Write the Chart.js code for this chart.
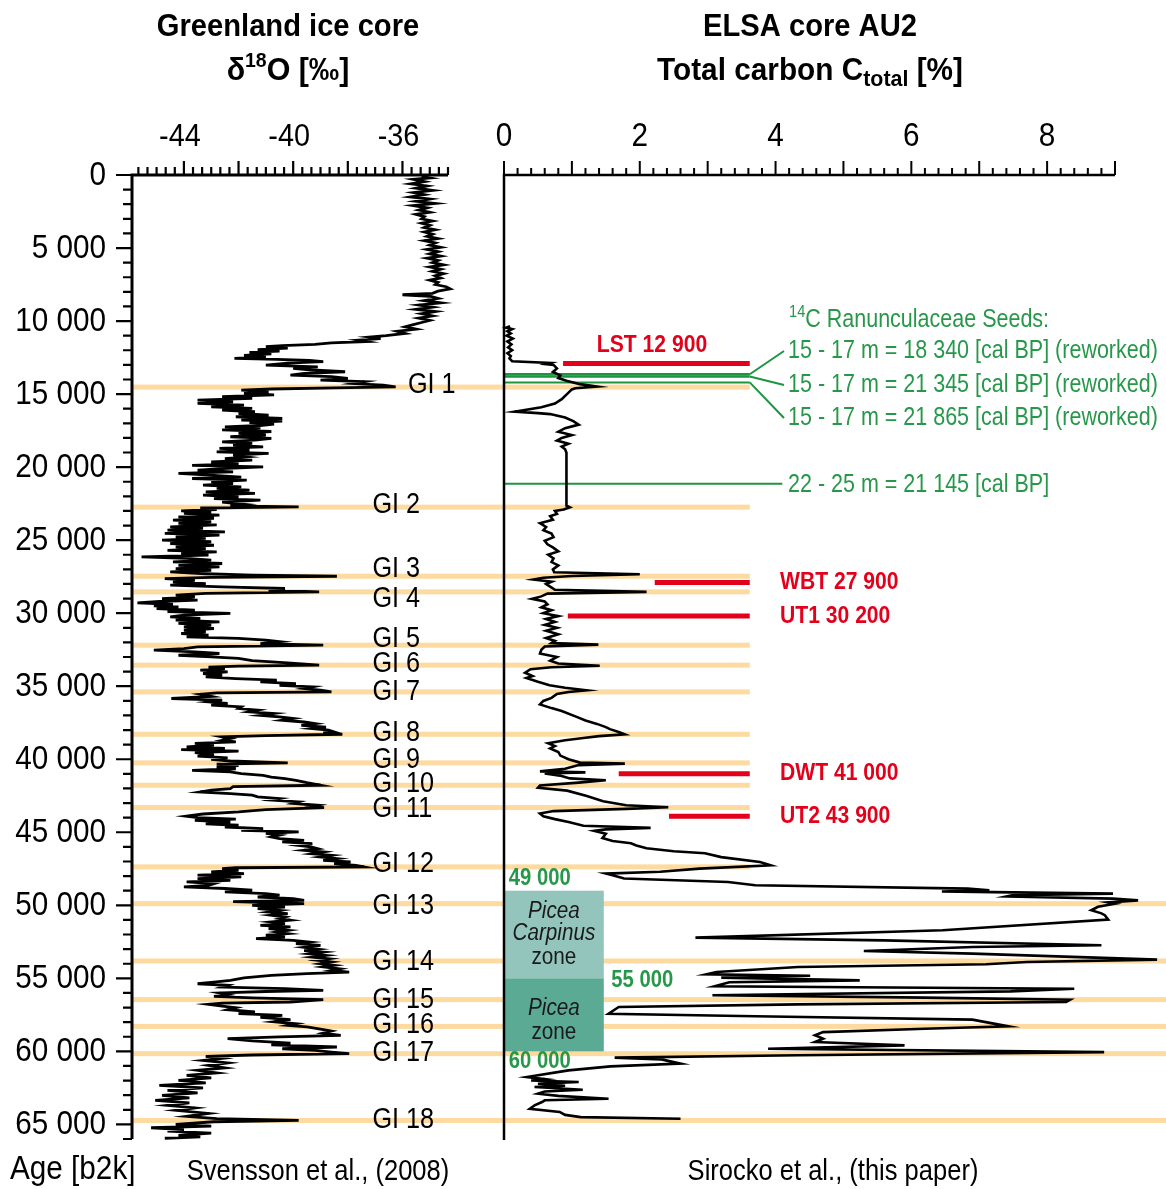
<!DOCTYPE html>
<html>
<head>
<meta charset="utf-8">
<title>Greenland ice core δ18O and ELSA core AU2 total carbon</title>
<script src="https://cdn.jsdelivr.net/npm/chart.js@4.4.1/dist/chart.umd.min.js"></script>
<style>
  html, body { margin: 0; padding: 0; background: #fff; }
  #wrap { position: relative; width: 1166px; height: 1189px; }
  #wrap canvas { position: absolute; left: 0; top: 0; }
</style>
</head>
<body>
<div id="wrap">
  <canvas id="carbon" width="1166" height="1189"></canvas>
  <canvas id="ice" width="1166" height="1189"></canvas>
</div>
<script>
// ---------------------------------------------------------------
// Data
// ---------------------------------------------------------------

// NGRIP δ18O record (Svensson et al., 2008): [age b2k, δ18O ‰]
const iceCore = [
  [100,-35.3],[200,-35.0],[300,-35.6],[450,-35.2],[600,-35.7],[750,-35.1],[900,-35.5],[1050,-34.9],
  [1200,-35.6],[1350,-35.2],[1500,-35.7],[1650,-35.0],[1800,-35.5],[1950,-34.8],[2100,-35.6],[2250,-35.1],
  [2400,-35.4],[2550,-35.0],[2700,-35.5],[2850,-35.2],[3000,-35.3],[3150,-34.9],[3300,-35.3],[3450,-35.0],
  [3600,-35.2],[3750,-34.8],[3900,-35.2],[4050,-34.9],[4200,-35.1],[4350,-34.7],[4500,-35.2],[4650,-34.8],
  [4800,-35.0],[4950,-34.6],[5100,-35.1],[5250,-34.7],[5400,-35.0],[5550,-34.6],[5700,-35.1],[5850,-34.7],
  [6000,-34.9],[6150,-34.5],[6300,-35.0],[6450,-34.6],[6600,-34.9],[6750,-34.5],[6900,-34.8],[7050,-34.6],
  [7200,-35.0],[7350,-34.7],[7500,-34.8],[7650,-34.4],[7800,-34.25],[7950,-34.7],[8100,-34.9],[8200,-36.0],
  [8300,-35.0],[8450,-34.7],[8600,-35.2],[8750,-34.6],[8900,-35.4],[9050,-34.9],[9200,-35.5],[9350,-34.8],
  [9500,-35.3],[9650,-34.9],[9800,-35.4],[9950,-35.0],[10100,-35.3],[10250,-35.6],
  [10400,-35.9],[10550,-35.5],[10700,-36.2],[10850,-35.9],[11000,-36.6],[11100,-37.2],[11200,-36.8],[11300,-37.6],
  [11400,-37.3],[11500,-38.6],[11600,-39.2],[11680,-40.4],[11760,-41.0],[11850,-40.2],[11950,-41.3],[12050,-40.5],
  [12150,-41.6],[12250,-40.8],[12350,-41.8],[12450,-41.0],[12560,-42.15],[12620,-40.6],[12700,-39.4],[12780,-38.9],
  [12880,-40.2],[13010,-41.0],[13130,-39.1],[13240,-40.0],[13350,-39.3],[13470,-38.1],[13580,-39.6],[13700,-40.1],
  [13810,-38.6],[13930,-38.0],[14050,-39.0],[14150,-37.4],[14280,-37.8],[14380,-36.7],[14500,-36.25],[14580,-38.5],
  [14650,-40.8],[14730,-41.9],[14850,-40.9],[14950,-41.8],[15060,-40.7],[15180,-42.6],[15300,-41.5],[15410,-43.5],
  [15530,-42.2],[15640,-43.5],[15750,-41.8],[15870,-43.0],[15980,-41.5],[16100,-42.6],[16210,-41.4],[16330,-42.0],
  [16440,-40.9],[16550,-42.1],[16670,-40.4],
  [16780,-41.9],[16850,-40.4],[16950,-41.6],[17050,-40.7],[17150,-41.2],[17240,-42.5],[17330,-41.2],[17450,-42.6],
  [17560,-40.8],[17690,-42.0],[17800,-41.0],[17920,-42.3],[18030,-40.8],[18150,-41.4],[18270,-42.6],[18380,-41.5],
  [18500,-42.2],[18610,-41.1],[18720,-42.7],[18840,-41.6],[18950,-42.8],[19060,-40.9],[19180,-42.2],[19300,-41.7],
  [19420,-42.5],[19520,-41.5],[19650,-43.0],[19780,-42.0],[19880,-43.7],[19980,-41.1],[20100,-42.6],[20200,-43.5],
  [20320,-42.2],[20430,-44.2],[20560,-42.9],[20680,-41.9],[20780,-43.7],[20890,-41.7],[21000,-43.0],[21120,-42.2],
  [21230,-43.3],[21350,-41.9],[21460,-42.8],[21580,-41.6],[21700,-43.2],[21800,-41.4],[21920,-43.3],[22030,-42.0],
  [22150,-42.9],[22260,-41.2],[22400,-42.6],[22550,-41.8],[22650,-42.3],[22720,-39.8],[22800,-43.4],[22900,-42.8],
  [23000,-44.1],[23100,-43.0],[23170,-44.0],[23280,-42.7],[23400,-44.2],[23500,-42.9],[23630,-44.4],[23740,-43.0],
  [23850,-44.2],[23960,-42.8],[24090,-44.5],[24200,-43.3],[24320,-44.6],[24430,-42.5],[24540,-44.7],[24650,-42.7],
  [24770,-44.3],[24880,-43.2],[25000,-44.8],[25110,-43.0],[25230,-44.5],[25350,-42.9],[25460,-44.3],[25570,-43.2],
  [25700,-44.6],[25800,-42.8],[25910,-44.1],[26030,-43.1],[26140,-45.55],[26250,-43.9],[26370,-43.0],[26490,-44.4],
  [26600,-42.6],[26720,-44.2],[26830,-42.7],[26950,-44.3],[27060,-43.0],[27170,-44.5],[27300,-43.2],[27400,-41.5],
  [27470,-38.4],[27550,-43.0],[27630,-44.7],[27750,-43.6],[27870,-44.4],[27970,-43.2],[28080,-44.5],[28200,-42.6],
  [28310,-40.3],[28420,-40.9],[28540,-39.05],[28650,-43.2],[28770,-44.3],[28880,-43.6],[29000,-44.8],[29100,-43.5],
  [29200,-44.9],[29290,-45.7],[29400,-44.4],[29500,-45.1],[29570,-44.2],[29680,-45.0],[29800,-43.6],[29900,-44.6],
  [30020,-42.3],[30130,-44.0],[30250,-44.5],[30360,-43.4],[30480,-44.3],[30600,-42.7],[30700,-44.2],[30820,-43.0],
  [30940,-44.0],[31050,-42.9],[31170,-44.0],[31280,-43.2],[31390,-44.1],[31500,-43.1],[31620,-43.9],[31730,-42.0],
  [31850,-41.0],[31950,-40.5],[32080,-41.2],[32190,-38.9],[32300,-43.5],[32420,-44.0],[32530,-45.1],[32650,-43.6],
  [32760,-42.7],[32880,-44.2],[32990,-43.0],[33100,-42.0],[33250,-41.5],[33400,-40.2],[33560,-39.05],
  [33620,-42.0],[33700,-43.1],[33790,-42.5],[33900,-43.4],[34020,-42.4],[34130,-43.3],[34250,-42.6],[34360,-43.2],
  [34480,-42.1],[34590,-40.6],[34700,-41.2],[34820,-39.9],[34940,-40.5],[35050,-39.3],[35160,-39.6],[35270,-39.0],
  [35390,-38.6],[35450,-42.8],[35550,-43.4],[35700,-43.0],[35840,-44.46],[35950,-42.6],[36070,-43.1],[36180,-42.4],
  [36300,-43.0],[36410,-41.9],[36530,-42.0],[36640,-41.3],[36750,-41.6],[36870,-40.7],[37000,-41.2],[37100,-40.5],
  [37210,-40.0],[37330,-40.4],[37450,-39.6],[37560,-39.2],[37680,-39.7],[37800,-38.8],[37900,-39.3],[38010,-38.7],
  [38130,-38.5],[38200,-38.9],[38290,-38.2],[38380,-41.0],[38470,-42.6],[38580,-42.3],[38700,-42.6],[38810,-42.1],
  [38920,-43.6],[39040,-42.9],[39150,-43.9],[39250,-42.5],[39340,-44.1],[39450,-42.0],[39550,-43.6],[39670,-42.9],
  [39780,-43.5],[39900,-42.4],[40000,-43.0],[40120,-42.3],[40250,-40.2],[40330,-42.8],[40430,-42.0],[40520,-42.8],
  [40650,-42.1],[40760,-43.7],[40870,-42.3],[40980,-41.9],[41100,-41.1],[41220,-40.8],[41330,-40.3],[41440,-39.9],
  [41600,-39.5],[41780,-38.99],[41880,-42.2],[42010,-42.3],[42120,-43.0],[42240,-43.4],[42350,-42.3],[42460,-41.5],
  [42580,-41.3],[42690,-40.5],[42800,-40.8],[42920,-39.8],[43030,-40.0],[43150,-39.1],[43230,-39.3],[43310,-38.87],
  [43450,-41.0],[43610,-42.0],[43750,-43.3],[43900,-43.92],[44000,-43.5],[44100,-42.1],[44180,-43.6],[44300,-42.3],
  [44420,-43.2],[44520,-42.0],[44640,-42.5],[44750,-41.1],[44860,-41.9],[44970,-39.8],[45080,-41.0],[45200,-40.5],
  [45320,-40.8],[45440,-40.5],[45560,-39.6],[45660,-40.4],[45780,-39.3],[45900,-39.8],[46000,-39.35],[46120,-39.1],
  [46230,-39.6],[46350,-38.9],[46470,-39.3],[46580,-38.6],[46690,-39.0],[46800,-38.4],[46920,-38.9],[47030,-37.9],
  [47150,-38.5],[47260,-37.7],[47370,-37.4],[47430,-42.1],[47490,-42.6],[47600,-42.0],[47720,-43.0],[47830,-41.8],
  [47940,-43.5],[48060,-41.9],[48170,-43.5],[48290,-42.3],[48400,-43.9],[48520,-42.9],[48630,-43.1],[48740,-44.0],
  [48850,-42.5],[48970,-41.5],[49080,-42.5],[49200,-41.0],[49310,-40.5],[49430,-41.3],[49540,-40.0],
  [49660,-39.6],[49750,-42.2],[49890,-39.6],[50000,-41.5],[50115,-40.3],[50230,-41.3],[50350,-40.5],[50460,-40.9],
  [50570,-40.2],[50680,-40.8],[50800,-40.3],[50910,-40.5],[51020,-40.1],[51140,-40.8],[51250,-40.3],[51370,-41.2],
  [51480,-40.1],[51600,-40.9],[51720,-40.2],[51830,-40.6],[51940,-40.2],[52050,-41.0],[52170,-40.3],[52280,-41.36],
  [52400,-40.0],[52520,-39.4],[52630,-39.9],[52750,-39.0],[52880,-39.6],[53000,-39.1],[53100,-39.6],[53200,-38.9],
  [53320,-39.4],[53430,-38.8],[53550,-39.3],[53660,-38.7],[53770,-39.1],[53880,-38.6],[54000,-39.0],[54110,-38.5],
  [54220,-38.9],[54350,-38.3],[54460,-38.6],[54570,-37.95],[54680,-39.5],[54800,-40.8],[54970,-41.8],[55140,-42.3],
  [55260,-42.9],[55370,-43.5],[55480,-42.4],[55600,-42.6],[55700,-40.3],[55820,-38.9],[55900,-41.0],[56000,-42.7],
  [56120,-42.4],[56230,-42.9],[56340,-41.5],[56460,-38.9],[56540,-39.5],[56620,-40.1],[56700,-42.6],[56780,-43.1],
  [56900,-42.6],[57010,-42.1],[57150,-42.4],[57300,-41.4],[57420,-42.0],[57530,-40.4],[57680,-41.2],[57830,-40.1],
  [57970,-40.7],[58110,-39.9],[58220,-40.2],[58330,-39.5],[58470,-39.0],[58610,-38.6],[58750,-38.9],[58900,-38.26],
  [59010,-40.5],[59130,-42.4],[59280,-41.5],[59430,-40.1],[59560,-40.8],[59700,-38.4],[59820,-40.4],[59930,-39.2],
  [60050,-38.6],[60160,-37.95],[60250,-41.5],[60340,-43.2],[60480,-42.6],[60620,-43.3],[60790,-42.4],[60960,-43.1],
  [61130,-42.5],[61300,-43.5],[61470,-42.8],[61640,-43.9],[61810,-43.0],[61990,-44.2],[62160,-43.2],[62330,-44.9],
  [62500,-43.3],[62670,-44.6],[62840,-43.5],[63010,-44.8],[63180,-43.8],[63360,-45.05],[63530,-43.8],[63700,-44.6],
  [63870,-43.6],[64040,-44.3],[64250,-43.1],[64450,-43.9],[64600,-42.8],[64730,-39.8],[64820,-42.9],[65000,-44.3],
  [65120,-43.0],[65230,-45.2],[65350,-44.0],[65460,-44.6],[65600,-43.0],[65750,-44.2],[65850,-43.4],[65950,-44.7]
];

// ELSA core AU2 total carbon: [age b2k, Ctotal %]
const carbonCore = [
  [10350,0.09],[10450,0.03],[10550,0.12],[10700,0.05],[10850,0.10],[11000,0.04],[11200,0.13],[11400,0.05],
  [11600,0.11],[11800,0.06],[12000,0.12],[12200,0.05],[12400,0.10],[12550,0.08],[12750,0.12],[12870,0.68],
  [12950,0.62],[13000,0.73],[13240,0.78],[13480,0.72],[13720,0.83],[13900,0.80],[14080,0.92],[14320,1.12],
  [14490,1.37],[14600,1.05],[14680,1.00],[15040,0.92],[15350,0.85],[15650,0.75],[15900,0.55],[16200,0.16],
  [16300,0.50],[16370,0.68],[16600,0.90],[16850,1.02],[17090,1.10],[17330,0.90],[17575,0.80],[17800,1.00],
  [18000,0.85],[18180,0.78],[18400,0.95],[18600,0.85],[18780,0.90],[19020,0.92],[19380,0.92],[22640,0.92],
  [22750,0.97],[22900,0.88],[23000,0.75],[23200,0.78],[23360,0.68],[23600,0.72],[23840,0.53],[24100,0.62],
  [24320,0.58],[24550,0.70],[24800,0.73],[25050,0.60],[25285,0.64],[25500,0.72],[25770,0.80],[26000,0.65],
  [26250,0.73],[26500,0.70],[26730,0.80],[27000,0.72],[27200,0.74],[27330,2.00],[27450,1.00],[27570,0.58],
  [27700,0.43],[27850,0.70],[28000,0.62],[28180,0.68],[28400,0.75],[28540,2.10],[28660,0.64],[28850,0.55],
  [29020,0.41],[29200,0.60],[29390,0.64],[29600,0.55],[29800,0.70],[30000,0.58],[30200,0.80],[30400,0.62],
  [30600,0.75],[30800,0.60],[31000,0.78],[31200,0.62],[31450,0.80],[31700,0.62],[31900,0.75],[32050,0.70],
  [32150,1.39],[32280,0.60],[32500,0.55],[32760,0.53],[33000,0.78],[33250,0.68],[33450,0.80],[33600,1.41],
  [33700,0.70],[33840,0.39],[34080,0.31],[34300,0.42],[34440,0.33],[34700,0.50],[34930,0.67],[35100,0.90],
  [35280,1.22],[35400,0.95],[35530,0.78],[35800,0.70],[36010,0.58],[36250,0.53],[36500,0.70],[36700,0.85],
  [37100,1.07],[37350,1.20],[37580,1.37],[37800,1.50],[37940,1.56],[38150,1.70],[38300,1.78],[38420,1.40],
  [38540,1.17],[38700,0.90],[38900,0.65],[39100,0.75],[39260,0.68],[39500,0.80],[39750,0.83],[40000,0.95],
  [40230,1.12],[40300,1.78],[40400,1.10],[40650,0.90],[40830,0.53],[40900,1.20],[40980,0.60],[41150,0.85],
  [41310,0.97],[41440,1.50],[41600,1.10],[41800,0.53],[41950,0.50],[42150,0.93],[42520,1.22],[42880,1.46],
  [43150,1.80],[43290,2.42],[43400,1.80],[43550,0.73],[43720,0.53],[43900,0.58],[44100,0.75],[44300,0.95],
  [44550,1.17],[44700,2.16],[44800,1.50],[44900,1.33],[45100,1.50],[45400,1.45],[45600,1.60],[45750,1.87],
  [45900,1.95],[46100,2.10],[46300,2.50],[46440,2.96],[46700,3.20],[47030,3.77],[47260,3.93],[47490,2.88],
  [47700,2.30],[47830,1.50],[47950,1.60],[48170,1.77],[48400,3.30],[48630,3.70],[48860,6.83],[48970,7.15],
  [49050,6.45],[49100,7.20],[49200,8.97],[49300,7.50],[49400,7.40],[49540,8.97],[49660,9.34],[49800,8.90],
  [49890,9.00],[50100,8.75],[50340,8.65],[50550,8.80],[50680,8.85],[50980,8.90],[51710,6.46],[52210,2.82],
  [52400,5.60],[52740,8.80],[52850,6.90],[53130,5.30],[53310,6.90],[53720,9.62],[53880,7.70],[54040,7.10],
  [54220,4.33],[54570,3.13],[54730,2.98],[54820,4.51],[54950,3.20],[55140,5.24],[55270,3.32],[55550,3.10],
  [55710,8.40],[55890,7.46],[56160,3.07],[56320,6.20],[56460,8.34],[56620,8.28],[56780,4.33],[56960,1.69],
  [57420,1.54],[57600,3.70],[57830,6.90],[58290,7.43],[58450,6.20],[58680,4.70],[58900,4.58],[59130,4.70],
  [59360,4.58],[59590,5.90],[59820,3.89],[60050,8.84],[60270,4.33],[60430,1.63],[60550,2.32],[60840,2.60],
  [61030,1.57],[61300,0.95],[61760,0.34],[61900,0.60],[61990,0.40],[62100,1.10],[62220,0.50],[62350,0.90],
  [62440,0.45],[62630,1.16],[62750,0.60],[62900,0.50],[63050,0.80],[63240,1.54],[63350,0.60],[63470,0.56],
  [63700,0.45],[63930,0.38],[64150,0.82],[64350,0.90],[64500,1.13],[64610,2.60]
];

// Greenland interstadials
const giNames = ['GI 1','GI 2','GI 3','GI 4','GI 5','GI 6','GI 7','GI 8','GI 9','GI 10',
                 'GI 11','GI 12','GI 13','GI 14','GI 15','GI 16','GI 17','GI 18'];
const giAges  = [14520, 22740, 27470, 28540, 32190, 33560, 35390, 38290, 40250, 41780,
                 43310, 47370, 49890, 53810, 56460, 58290, 60160, 64730];

// Luminescence / tephra dates (red)
const datingNames = ['LST 12 900', 'WBT 27 900', 'UT1 30 200', 'DWT 41 000', 'UT2 43 900'];
const datingAges  = [12900, 27900, 30200, 41000, 43900];
const datingFromC = [0.87, 2.22, 0.94, 1.69, 2.43];
const markerEndC  = 3.62;

// 14C dated seeds (green)
const seedHeader  = ['14', 'C Ranunculaceae Seeds:'];
const seedNames   = ['15 - 17 m = 18 340 [cal BP] (reworked)',
                     '15 - 17 m = 21 345 [cal BP] (reworked)',
                     '15 - 17 m = 21 865 [cal BP] (reworked)'];
const seedLineAges = [13640, 13800, 14200];
const seedSingleName = '22 - 25 m = 21 145 [cal BP]';
const seedSingleAge  = 21145;
const seedSingleEndC = 4.1;

// Pollen zones
const zoneFrom  = [49000, 55000];
const zoneTo    = [55000, 60000];
const zoneWidthC = 1.47;
const zoneLines = [[['Picea', 'italic'], ['Carpinus', 'italic'], ['zone', 'normal']],
                   [['Picea', 'italic'], ['zone', 'normal']]];
const zoneAgeNames = ['49 000', '55 000', '60 000'];
const zoneAgeValues = [49000, 55000, 60000];

// Axis ticks
const ageTicks  = [0, 5000, 10000, 15000, 20000, 25000, 30000, 35000, 40000, 45000, 50000, 55000, 60000, 65000];
const ageLabels = ['0', '5 000', '10 000', '15 000', '20 000', '25 000', '30 000', '35 000',
                   '40 000', '45 000', '50 000', '55 000', '60 000', '65 000'];
const d18oTicks  = [-44, -40, -36];
const d18oLabels = ['-44', '-40', '-36'];
const carbonTicks  = [0, 2, 4, 6, 8];
const carbonLabels = ['0', '2', '4', '6', '8'];

// ---------------------------------------------------------------
// Styles and text helpers
// ---------------------------------------------------------------
const FONT = "'Liberation Sans', Arial, Helvetica, sans-serif";
const BAND = '#FDDA9F';
const RED = '#E3001B';
const GREEN_LINE = '#1D9440';
const GREEN_TEXT = '#27984A';
const ZONE_FILL = ['#93C5BC', '#5BAA94'];

function setFont(ctx, size, weight, style) {
  ctx.font = `${style || 'normal'} ${weight || 'normal'} ${size}px ${FONT}`;
}

// Draws a run of text pieces (optionally super-/subscripted) with a horizontal squeeze
function richText(ctx, runs, x, y, o) {
  const sx = o.sx || 1;
  const sizeOf = r => r.shift ? o.size * (r.scale || 0.64) : o.size;
  ctx.save();
  ctx.fillStyle = o.color || '#000';
  ctx.textBaseline = 'middle';
  ctx.textAlign = 'left';
  const widths = runs.map(r => {
    setFont(ctx, sizeOf(r), o.weight, r.style || o.style);
    return ctx.measureText(r.t).width;
  });
  const total = widths.reduce((a, b) => a + b, 0) * sx;
  let start = x;
  if (o.align === 'center') start = x - total / 2;
  else if (o.align === 'right') start = x - total;
  ctx.translate(start, y);
  ctx.scale(sx, 1);
  let cx = 0;
  runs.forEach((r, i) => {
    setFont(ctx, sizeOf(r), o.weight, r.style || o.style);
    const dy = r.shift === 'sup' ? -o.size * 0.3 : (r.shift === 'sub' ? o.size * 0.3 : 0);
    ctx.fillText(r.t, cx, dy);
    cx += widths[i];
  });
  ctx.restore();
}
function text(ctx, str, x, y, o) { richText(ctx, [{ t: str }], x, y, o); }

// ---------------------------------------------------------------
// Left panel: δ18O
// ---------------------------------------------------------------
const iceFrame = {
  id: 'iceFrame',
  afterDraw(chart) {
    const { ctx, chartArea: a, scales: { x, y } } = chart;
    ctx.save();
    ctx.strokeStyle = '#000';
    ctx.lineWidth = 3;
    ctx.beginPath();
    ctx.moveTo(a.left, a.bottom);
    ctx.lineTo(a.left, a.top);
    ctx.lineTo(a.right, a.top);
    ctx.stroke();

    ctx.lineWidth = 2.2;
    ctx.beginPath();
    for (let i = -5; i <= 29; i++) {
      const px = x.getPixelForValue(-44 + i / 3);
      const len = i % 6 === 0 ? 14 : 8;
      ctx.moveTo(px, a.top);
      ctx.lineTo(px, a.top - len);
    }
    for (let k = 0; k <= 66; k++) {
      const py = y.getPixelForValue(k * 1000);
      const len = k % 5 === 0 ? 16 : 9;
      ctx.moveTo(a.left, py);
      ctx.lineTo(a.left - len, py);
    }
    ctx.stroke();
    ctx.restore();

    d18oTicks.forEach((v, i) =>
      text(ctx, d18oLabels[i], x.getPixelForValue(v) - 4, 137, { size: 32, sx: 0.9, align: 'center' }));
    ageTicks.forEach((v, i) =>
      text(ctx, ageLabels[i], 106, y.getPixelForValue(v) + 1, { size: 33, sx: 0.9, align: 'right' }));

    // interstadial labels
    const nudge = [-2, -2, -7, 7, -6, -1, 0, -1, -3, -1, 1, -3, 2, 1, 0, -1, -1, 0];
    giNames.forEach((n, i) => {
      const gx = x.getPixelForValue(i === 0 ? -35.8 : -37.1);
      text(ctx, n, gx, y.getPixelForValue(giAges[i]) + nudge[i], { size: 29, sx: 0.87 });
    });

    // titles and credits
    text(ctx, 'Greenland ice core', 288, 27, { size: 31, weight: 'bold', sx: 0.94, align: 'center' });
    richText(ctx, [{ t: 'δ' }, { t: '18', shift: 'sup' }, { t: 'O [‰]' }], 288, 71,
      { size: 31, weight: 'bold', sx: 0.98, align: 'center' });
    text(ctx, 'Age [b2k]', 10, 1170, { size: 33, sx: 0.9 });
    text(ctx, 'Svensson et al., (2008)', 318, 1172, { size: 29, sx: 0.88, align: 'center' });
  }
};

const iceChart = new Chart(document.getElementById('ice'), {
  type: 'scatter',
  data: {
    datasets: [{
      data: iceCore.map(([age, v]) => ({ x: v, y: age })),
      showLine: true,
      borderColor: '#000',
      borderWidth: 2.8,
      pointRadius: 0,
      tension: 0,
      clip: false
    }]
  },
  options: {
    responsive: false,
    animation: false,
    events: [],
    layout: { padding: { left: 132, right: 718, top: 175, bottom: 50 } },
    scales: {
      x: { type: 'linear', min: -45.9, max: -34.333, display: false },
      y: { type: 'linear', min: 0, max: 66000, reverse: true, display: false }
    },
    plugins: { legend: { display: false }, tooltip: { enabled: false } }
  },
  plugins: [iceFrame]
});

// ---------------------------------------------------------------
// Right panel: total carbon
// ---------------------------------------------------------------
const carbonBackdrop = {
  id: 'carbonBackdrop',
  beforeDatasetsDraw(chart) {
    const { ctx, scales: { x, y } } = chart;
    ctx.save();
    // interstadial bands across both panels
    ctx.fillStyle = BAND;
    const x0 = iceChart.chartArea.left;
    giAges.forEach((age, i) => {
      const py = y.getPixelForValue(age);
      const x1 = i >= 12 ? chart.width : x.getPixelForValue(markerEndC);
      ctx.fillRect(x0, py - 2.5, x1 - x0, 5);
    });
    // pollen zones
    zoneFrom.forEach((from, i) => {
      const top = y.getPixelForValue(from), bot = y.getPixelForValue(zoneTo[i]);
      const l = x.getPixelForValue(0), r = x.getPixelForValue(zoneWidthC);
      ctx.fillStyle = ZONE_FILL[i];
      ctx.fillRect(l, top, r - l, bot - top);
    });
    ctx.restore();

    // zone texts
    const cx = x.getPixelForValue(zoneWidthC / 2);
    const top0 = y.getPixelForValue(zoneFrom[0]);
    [21, 43, 67].forEach((dy, j) =>
      text(ctx, zoneLines[0][j][0], cx, top0 + dy, { size: 23, sx: 0.9, style: zoneLines[0][j][1], color: '#1a1a1a', align: 'center' }));
    const top1 = y.getPixelForValue(zoneFrom[1]);
    [30, 54].forEach((dy, j) =>
      text(ctx, zoneLines[1][j][0], cx, top1 + dy, { size: 23, sx: 0.9, style: zoneLines[1][j][1], color: '#1a1a1a', align: 'center' }));
  },
  afterDatasetsDraw(chart) {
    const { ctx, chartArea: a, scales: { x, y } } = chart;
    ctx.save();
    ctx.strokeStyle = '#000';
    ctx.lineWidth = 2.5;
    ctx.beginPath();
    ctx.moveTo(a.left, a.bottom + 1);
    ctx.lineTo(a.left, a.top);
    ctx.lineTo(a.right, a.top);
    ctx.stroke();
    ctx.lineWidth = 2;
    ctx.beginPath();
    for (let i = 0; i <= 45; i++) {
      const px = x.getPixelForValue(i * 0.2);
      const len = i % 5 === 0 ? 14 : 7;
      ctx.moveTo(px, a.top);
      ctx.lineTo(px, a.top - len);
    }
    ctx.stroke();

    // seed connectors
    ctx.strokeStyle = GREEN_LINE;
    ctx.lineWidth = 2;
    const ex = x.getPixelForValue(markerEndC);
    const rowsY = [351, 385, 418];
    ctx.beginPath();
    seedLineAges.forEach((age, i) => {
      ctx.moveTo(ex, y.getPixelForValue(age));
      ctx.lineTo(784, rowsY[i]);
    });
    ctx.stroke();
    ctx.restore();

    carbonTicks.forEach((v, i) =>
      text(ctx, carbonLabels[i], x.getPixelForValue(v), 137, { size: 33, sx: 0.9, align: 'center' }));

    // seed texts
    richText(ctx, [{ t: seedHeader[0], shift: 'sup', scale: 0.68 }, { t: seedHeader[1] }], 789, 320,
      { size: 25, sx: 0.86, color: GREEN_TEXT });
    seedNames.forEach((n, i) => text(ctx, n, 788, rowsY[i], { size: 25, sx: 0.86, color: GREEN_TEXT }));
    text(ctx, seedSingleName, 788, y.getPixelForValue(seedSingleAge) + 1, { size: 25, sx: 0.86, color: GREEN_TEXT });

    // dating labels
    datingNames.forEach((n, i) => {
      const py = y.getPixelForValue(datingAges[i]);
      if (i === 0) {
        text(ctx, n, x.getPixelForValue(2.18), py - 18, { size: 24, weight: 'bold', sx: 0.88, color: RED, align: 'center' });
      } else {
        text(ctx, n, 780, py, { size: 24, weight: 'bold', sx: 0.88, color: RED });
      }
    });

    // zone age labels
    const zx = [0.07, 1.58, 0.07];
    const zdy = [-12, 2, 10];
    zoneAgeNames.forEach((n, i) =>
      text(ctx, n, x.getPixelForValue(zx[i]), y.getPixelForValue(zoneAgeValues[i]) + zdy[i],
        { size: 23, weight: 'bold', sx: 0.88, color: GREEN_TEXT }));

    // titles and credit
    text(ctx, 'ELSA core AU2', 810, 27, { size: 31, weight: 'bold', sx: 0.94, align: 'center' });
    richText(ctx, [{ t: 'Total carbon C' }, { t: 'total', shift: 'sub', scale: 0.72 }, { t: ' [%]' }], 810, 71,
      { size: 31, weight: 'bold', sx: 0.96, align: 'center' });
    text(ctx, 'Sirocko et al., (this paper)', 833, 1172, { size: 29, sx: 0.88, align: 'center' });
  }
};

const seg = (c0, c1, age) => [{ x: c0, y: age }, { x: c1, y: age }];
const markerSet = (data, color, width) => ({
  data, showLine: true, borderColor: color, borderWidth: width, pointRadius: 0, clip: false
});

new Chart(document.getElementById('carbon'), {
  type: 'scatter',
  data: {
    datasets: [
      {
        data: carbonCore.map(([age, c]) => ({ x: c, y: age })),
        showLine: true,
        borderColor: '#000',
        borderWidth: 2.6,
        pointRadius: 0,
        tension: 0,
        clip: false
      },
      ...seedLineAges.map((age, i) => markerSet(seg(0, markerEndC, age), GREEN_LINE, i < 2 ? 2.6 : 2)),
      markerSet(seg(0, seedSingleEndC, seedSingleAge), GREEN_LINE, 2),
      ...datingAges.map((age, i) => markerSet(seg(datingFromC[i], markerEndC, age), RED, 5))
    ]
  },
  options: {
    responsive: false,
    animation: false,
    events: [],
    layout: { padding: { left: 504, right: 51, top: 175, bottom: 50 } },
    scales: {
      x: { type: 'linear', min: 0, max: 9, display: false },
      y: { type: 'linear', min: 0, max: 66000, reverse: true, display: false }
    },
    plugins: { legend: { display: false }, tooltip: { enabled: false } }
  },
  plugins: [carbonBackdrop]
});
</script>
</body>
</html>
